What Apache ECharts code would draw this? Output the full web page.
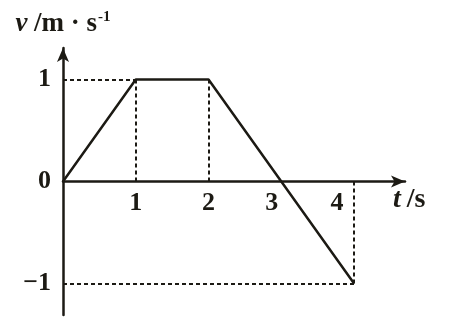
<!DOCTYPE html>
<html>
<head>
<meta charset="utf-8">
<script src="https://cdn.jsdelivr.net/npm/echarts@6/dist/echarts.min.js"></script>
<style>
  html, body { margin: 0; padding: 0; background: #fff; }
  #chart { width: 451px; height: 320px; }
</style>
</head>
<body>
<div id="chart"></div>
<script>
// v-t graph: values
const times = [0, 1, 2, 3, 4]
const speeds = [0, 1, 1, 0, -1]
const xTicks = [1, 2, 3, 4]
const yTicks = [-1, 0, 1]
// points that get dashed guide lines to the axes
const guideIdx = [1, 2, 4]

const ink = '#1c1a14'
const font = 'Liberation Serif'
const yMin = -1.31, yMax = 1.31
const gridH = 267

function guideLines() {
  const lines = []
  guideIdx.forEach(i => {
    const t = times[i], v = speeds[i]
    lines.push([{ coord: [t, v] }, { coord: [t, 0] }])
  })
  // horizontal guides from the v axis to the first peak and the last point
  lines.push([{ coord: [0, speeds[1]] }, { coord: [times[1], speeds[1]] }])
  lines.push([{ coord: [0, speeds[4]] }, { coord: [times[4], speeds[4]] }])
  return lines
}

function initOption() {
  return {
    animation: false,
    backgroundColor: '#fff',
    grid: { left: 63, top: 48, width: 342, height: gridH, outerBoundsMode: 'none', containLabel: false },
    xAxis: {
      type: 'value',
      min: 0,
      max: 4.7,
      // move the t axis (line, labels, name) up to v = 0
      offset: -gridH * (0 - yMin) / (yMax - yMin),
      splitLine: { show: false },
      axisTick: { show: false },
      axisLine: {
        onZero: false,
        symbol: ['none', 'arrow'],
        symbolSize: [9, 14],
        lineStyle: { color: ink, width: 2.5 }
      },
      axisLabel: {
        customValues: xTicks,
        margin: 9,
        color: ink,
        fontFamily: font,
        fontWeight: 'bold',
        fontSize: 26,
        formatter: v => v === 3 ? '{a|3}' : v === 4 ? '{b|4}' : String(v),
        rich: {
          a: { fontFamily: font, fontWeight: 'bold', fontSize: 26, color: ink, padding: [0, 19, 0, 0] },
          b: { fontFamily: font, fontWeight: 'bold', fontSize: 26, color: ink, padding: [0, 34, 6, 0] }
        }
      },
      name: '{t|t}{s|/s}',
      nameLocation: 'end',
      nameGap: 4,
      nameTextStyle: {
        align: 'left',
        verticalAlign: 'top',
        padding: [4, 0, 0, -16],
        rich: {
          t: { fontFamily: font, fontStyle: 'italic', fontWeight: 'bold', fontSize: 28, color: ink, padding: [0, 6, 0, 0] },
          s: { fontFamily: font, fontWeight: 'bold', fontSize: 28, color: ink }
        }
      }
    },
    yAxis: {
      type: 'value',
      min: yMin,
      max: yMax,
      splitLine: { show: false },
      axisTick: { show: false },
      axisLine: {
        symbol: ['none', 'arrow'],
        symbolSize: [9, 14],
        lineStyle: { color: ink, width: 2.5 }
      },
      axisLabel: {
        customValues: yTicks,
        margin: 12,
        color: ink,
        fontFamily: font,
        fontWeight: 'bold',
        fontSize: 26,
        formatter: v => v < 0 ? '\u22121' : String(v)
      },
      name: '{v|v}  {u|/m \u00b7 s}{e|-1}',
      nameLocation: 'end',
      nameGap: 9,
      nameTextStyle: {
        align: 'center',
        padding: [0, 0, 0, 0],
        rich: {
          v: { fontFamily: font, fontStyle: 'italic', fontWeight: 'bold', fontSize: 27, color: ink },
          u: { fontFamily: font, fontWeight: 'bold', fontSize: 27, color: ink },
          e: { fontFamily: font, fontWeight: 'bold', fontSize: 15, color: ink, verticalAlign: 'top', padding: [0, 0, 14, 1] }
        }
      }
    },
    series: [{
      type: 'line',
      data: times.map((t, i) => [t, speeds[i]]),
      symbol: 'none',
      lineStyle: { color: ink, width: 2.5 },
      markLine: {
        silent: true,
        symbol: ['none', 'none'],
        label: { show: false },
        lineStyle: { color: ink, width: 2, type: [4, 3] },
        data: guideLines()
      },
      z: 3
    }]
  }
}

const chart = echarts.init(document.getElementById('chart'), null, { renderer: 'canvas' })
chart.setOption(initOption())
</script>
</body>
</html>
